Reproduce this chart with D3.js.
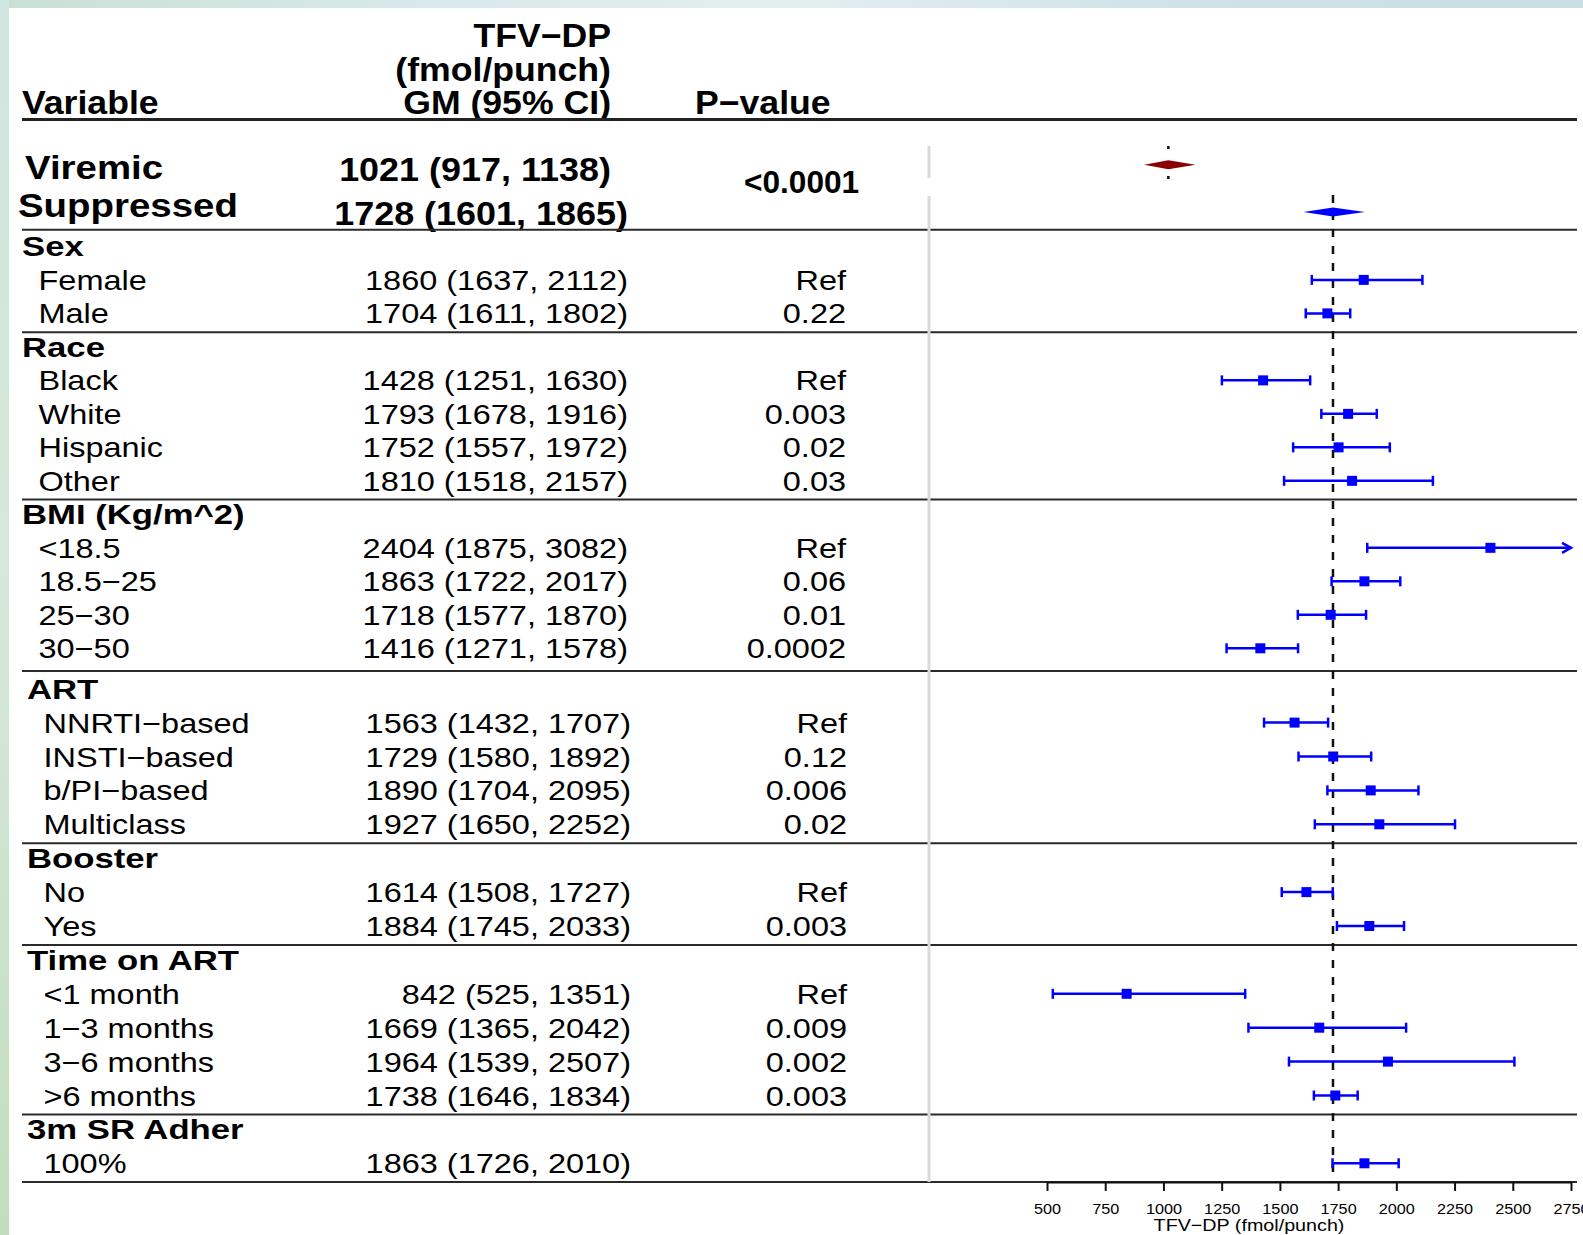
<!DOCTYPE html>
<html>
<head>
<meta charset="utf-8">
<script src="https://cdn.jsdelivr.net/npm/d3@7"></script>
<style>
  html, body { margin: 0; padding: 0; background: #fff; }
  svg { display: block; }
  text { font-family: "Liberation Sans", Arial, Helvetica, sans-serif; fill: #000; }
</style>
</head>
<body>
<script>
// ---- data ----------------------------------------------------------------
const summaryLabels = ["Viremic", "Suppressed"];
const summaryGM     = [1021, 1728];
const summaryLower  = [917, 1601];
const summaryUpper  = [1138, 1865];
const summaryP      = "<0.0001";

const groupNames = ["Sex", "Race", "BMI (Kg/m^2)", "ART", "Booster", "Time on ART", "3m SR Adher"];
const groupItems = [
  ["Female", "Male"],
  ["Black", "White", "Hispanic", "Other"],
  ["<18.5", "18.5\u221225", "25\u221230", "30\u221250"],
  ["NNRTI\u2212based", "INSTI\u2212based", "b/PI\u2212based", "Multiclass"],
  ["No", "Yes"],
  ["<1 month", "1\u22123 months", "3\u22126 months", ">6 months"],
  ["100%"]
];
const gmValues = [
  [1860, 1704],
  [1428, 1793, 1752, 1810],
  [2404, 1863, 1718, 1416],
  [1563, 1729, 1890, 1927],
  [1614, 1884],
  [842, 1669, 1964, 1738],
  [1863]
];
const ciLower = [
  [1637, 1611],
  [1251, 1678, 1557, 1518],
  [1875, 1722, 1577, 1271],
  [1432, 1580, 1704, 1650],
  [1508, 1745],
  [525, 1365, 1539, 1646],
  [1726]
];
const ciUpper = [
  [2112, 1802],
  [1630, 1916, 1972, 2157],
  [3082, 2017, 1870, 1578],
  [1707, 1892, 2095, 2252],
  [1727, 2033],
  [1351, 2042, 2507, 1834],
  [2010]
];
const pValues = [
  ["Ref", "0.22"],
  ["Ref", "0.003", "0.02", "0.03"],
  ["Ref", "0.06", "0.01", "0.0002"],
  ["Ref", "0.12", "0.006", "0.02"],
  ["Ref", "0.003"],
  ["Ref", "0.009", "0.002", "0.003"],
  [""]
];
const referenceValue = 1728;
const xTicks = [500, 750, 1000, 1250, 1500, 1750, 2000, 2250, 2500, 2750];
const axisTitle = "TFV\u2212DP (fmol/punch)";
const headerLines = ["TFV\u2212DP", "(fmol/punch)", "GM (95% CI)"];

// ---- canvas --------------------------------------------------------------
const W = 1583, H = 1235;
const svg = d3.select("body").append("svg").attr("width", W).attr("height", H);

const defs = svg.append("defs");
const gTop = defs.append("linearGradient").attr("id", "bandTop").attr("x1", 0).attr("x2", 1).attr("y1", 0).attr("y2", 0);
gTop.append("stop").attr("offset", "0%").attr("stop-color", "#c9e0d3");
gTop.append("stop").attr("offset", "25%").attr("stop-color", "#d8e8ea");
gTop.append("stop").attr("offset", "50%").attr("stop-color", "#e3eef0");
gTop.append("stop").attr("offset", "75%").attr("stop-color", "#cfe2e8");
gTop.append("stop").attr("offset", "100%").attr("stop-color", "#c8dde4");
const gLeft = defs.append("linearGradient").attr("id", "bandLeft").attr("x1", 0).attr("x2", 0).attr("y1", 0).attr("y2", 1);
gLeft.append("stop").attr("offset", "0%").attr("stop-color", "#d2e5e0");
gLeft.append("stop").attr("offset", "50%").attr("stop-color", "#d5e8d8");
gLeft.append("stop").attr("offset", "100%").attr("stop-color", "#c3dcbf");

svg.append("rect").attr("width", W).attr("height", H).attr("fill", "#fff");
svg.append("rect").attr("x", 0).attr("y", 0).attr("width", W).attr("height", 8).attr("fill", "url(#bandTop)");
svg.append("rect").attr("x", 0).attr("y", 0).attr("width", 9).attr("height", H).attr("fill", "url(#bandLeft)");

// ---- scales --------------------------------------------------------------
const x = d3.scaleLinear().domain([500, 2750]).range([1047, 1571]);
// row slots -> vertical position (the lower block is spaced a little wider)
const y = d3.scaleLinear().domain([0, 12, 13, 27]).range([246.4, 648.3, 688.7, 1163.3]);

// text helper: horizontally stretched glyphs, y given as visual centre
function label(g, px, cy, str, o) {
  const size = o.size || 28;
  return g.append("text")
    .attr("transform", `translate(${px},${cy + size * 0.358}) scale(${o.sx || 1.16},1)`)
    .attr("text-anchor", o.anchor || "start")
    .attr("font-size", size)
    .attr("font-weight", o.bold ? "bold" : "normal")
    .text(str);
}

const table = svg.append("g");

// ---- column header -------------------------------------------------------
const hdr = { size: 33, bold: true, sx: 1.08 };
label(table, 611, 35.3, headerLines[0], { ...hdr, anchor: "end" });
label(table, 611, 68.7, headerLines[1], { ...hdr, anchor: "end" });
label(table, 611, 102, headerLines[2], { ...hdr, anchor: "end" });
label(table, 22, 102, "Variable", hdr);
label(table, 695, 102, "P\u2212value", hdr);

// ---- horizontal rules ----------------------------------------------------
function rule(yy, w, c) {
  table.append("line").attr("x1", 22).attr("x2", 1577).attr("y1", yy).attr("y2", yy)
    .attr("stroke", c || "#2a2a2a").attr("stroke-width", w || 2);
}
rule(119.5, 3, "#222");

// ---- summary rows --------------------------------------------------------
const sumY = [166.6, 205];
const sumValY = [169.6, 213];
const sumMarkY = [164.7, 212];
const sumX = [25, 18];
summaryLabels.forEach((s, i) => {
  label(table, sumX[i], sumY[i], s, { size: 34, bold: true, sx: 1.13 });
  label(table, i === 0 ? 611 : 628, sumValY[i], `${summaryGM[i]} (${summaryLower[i]}, ${summaryUpper[i]})`,
        { size: 33, bold: true, sx: 1.09, anchor: "end" });
});
label(table, 744, 182, summaryP, { size: 31, bold: true, sx: 1.02 });

// ---- grouped rows --------------------------------------------------------
const plot = svg.append("g");
let slot = 0;
const ruleYs = [y(-0.5)];
const rows = [];
groupNames.forEach((gname, gi) => {
  const lower = gi >= 3;                 // lower block sits a few pixels to the right
  const hx = lower ? 27 : 22, ix = lower ? 43.5 : 38.5;
  const vx = lower ? 631 : 628, px = lower ? 847 : 846;
  label(table, hx, y(slot), gname, { bold: true, sx: 1.24 });
  groupItems[gi].forEach((item, k) => {
    const s = slot + 1 + k;
    label(table, ix, y(s), item, {});
    label(table, vx, y(s), `${gmValues[gi][k]} (${ciLower[gi][k]}, ${ciUpper[gi][k]})`, { anchor: "end" });
    if (pValues[gi][k]) label(table, px, y(s), pValues[gi][k], { anchor: "end" });
    rows.push({ yy: y(s), gm: gmValues[gi][k], lo: ciLower[gi][k], hi: ciUpper[gi][k] });
  });
  slot += groupItems[gi].length + 1;
  ruleYs.push(y(slot - (gi === groupNames.length - 1 ? 0.45 : 0.44)));
});
ruleYs.forEach(r => rule(r, 2));
const axisY = ruleYs[ruleYs.length - 1];

// separator between table and plot
table.append("line").attr("x1", 929).attr("x2", 929).attr("y1", 146).attr("y2", 178)
  .attr("stroke", "#d9d9d9").attr("stroke-width", 3);
table.append("line").attr("x1", 929).attr("x2", 929).attr("y1", 196).attr("y2", axisY)
  .attr("stroke", "#d9d9d9").attr("stroke-width", 3);

// ---- reference lines -----------------------------------------------------
plot.append("line").attr("x1", x(summaryGM[0])).attr("x2", x(summaryGM[0]))
  .attr("y1", 146).attr("y2", 180).attr("stroke", "#111").attr("stroke-width", 2.5)
  .attr("stroke-dasharray", "3 12");
plot.append("line").attr("x1", x(referenceValue)).attr("x2", x(referenceValue))
  .attr("y1", 195).attr("y2", axisY).attr("stroke", "#111").attr("stroke-width", 2.5)
  .attr("stroke-dasharray", "8 9");

// ---- summary diamonds ----------------------------------------------------
const diamondColors = ["#8b0000", "#0000ff"];
summaryLabels.forEach((s, i) => {
  const cy = sumMarkY[i], h = 4.5;
  plot.append("path")
    .attr("d", `M${x(summaryLower[i])},${cy} L${x(summaryGM[i])},${cy - h} L${x(summaryUpper[i])},${cy} L${x(summaryGM[i])},${cy + h} Z`)
    .attr("fill", diamondColors[i]);
});

// ---- confidence intervals ------------------------------------------------
const blue = "#0000ff";
const xMax = x.domain()[1];
rows.forEach(r => {
  const x0 = x(r.lo), x1 = x(Math.min(r.hi, xMax));
  plot.append("line").attr("x1", x0).attr("x2", x1).attr("y1", r.yy).attr("y2", r.yy)
    .attr("stroke", blue).attr("stroke-width", 2.5);
  plot.append("line").attr("x1", x0).attr("x2", x0).attr("y1", r.yy - 5).attr("y2", r.yy + 5)
    .attr("stroke", blue).attr("stroke-width", 2.5);
  if (r.hi > xMax) {
    plot.append("path").attr("d", `M${x1 - 9},${r.yy - 5} L${x1},${r.yy} L${x1 - 9},${r.yy + 5}`)
      .attr("fill", "none").attr("stroke", blue).attr("stroke-width", 2.5);
  } else {
    plot.append("line").attr("x1", x1).attr("x2", x1).attr("y1", r.yy - 5).attr("y2", r.yy + 5)
      .attr("stroke", blue).attr("stroke-width", 2.5);
  }
  plot.append("rect").attr("x", x(r.gm) - 5).attr("y", r.yy - 5).attr("width", 10).attr("height", 10)
    .attr("fill", blue);
});

// ---- x axis --------------------------------------------------------------
const ax = svg.append("g").attr("transform", `translate(0,${axisY})`)
  .call(d3.axisBottom(x).tickValues(xTicks).tickFormat(d3.format("d")).tickSize(9).tickSizeOuter(0).tickPadding(13));
ax.select(".domain").attr("stroke", "#111").attr("stroke-width", 2);
ax.selectAll(".tick line").attr("stroke", "#111").attr("stroke-width", 2);
ax.selectAll(".tick text").attr("font-size", 14).attr("fill", "#000")
  .attr("font-family", "'Liberation Sans', Arial, sans-serif")
  .attr("transform", "scale(1.16,1)");
label(svg, 1249, 1225, axisTitle, { size: 17, anchor: "middle" });
</script>
</body>
</html>
